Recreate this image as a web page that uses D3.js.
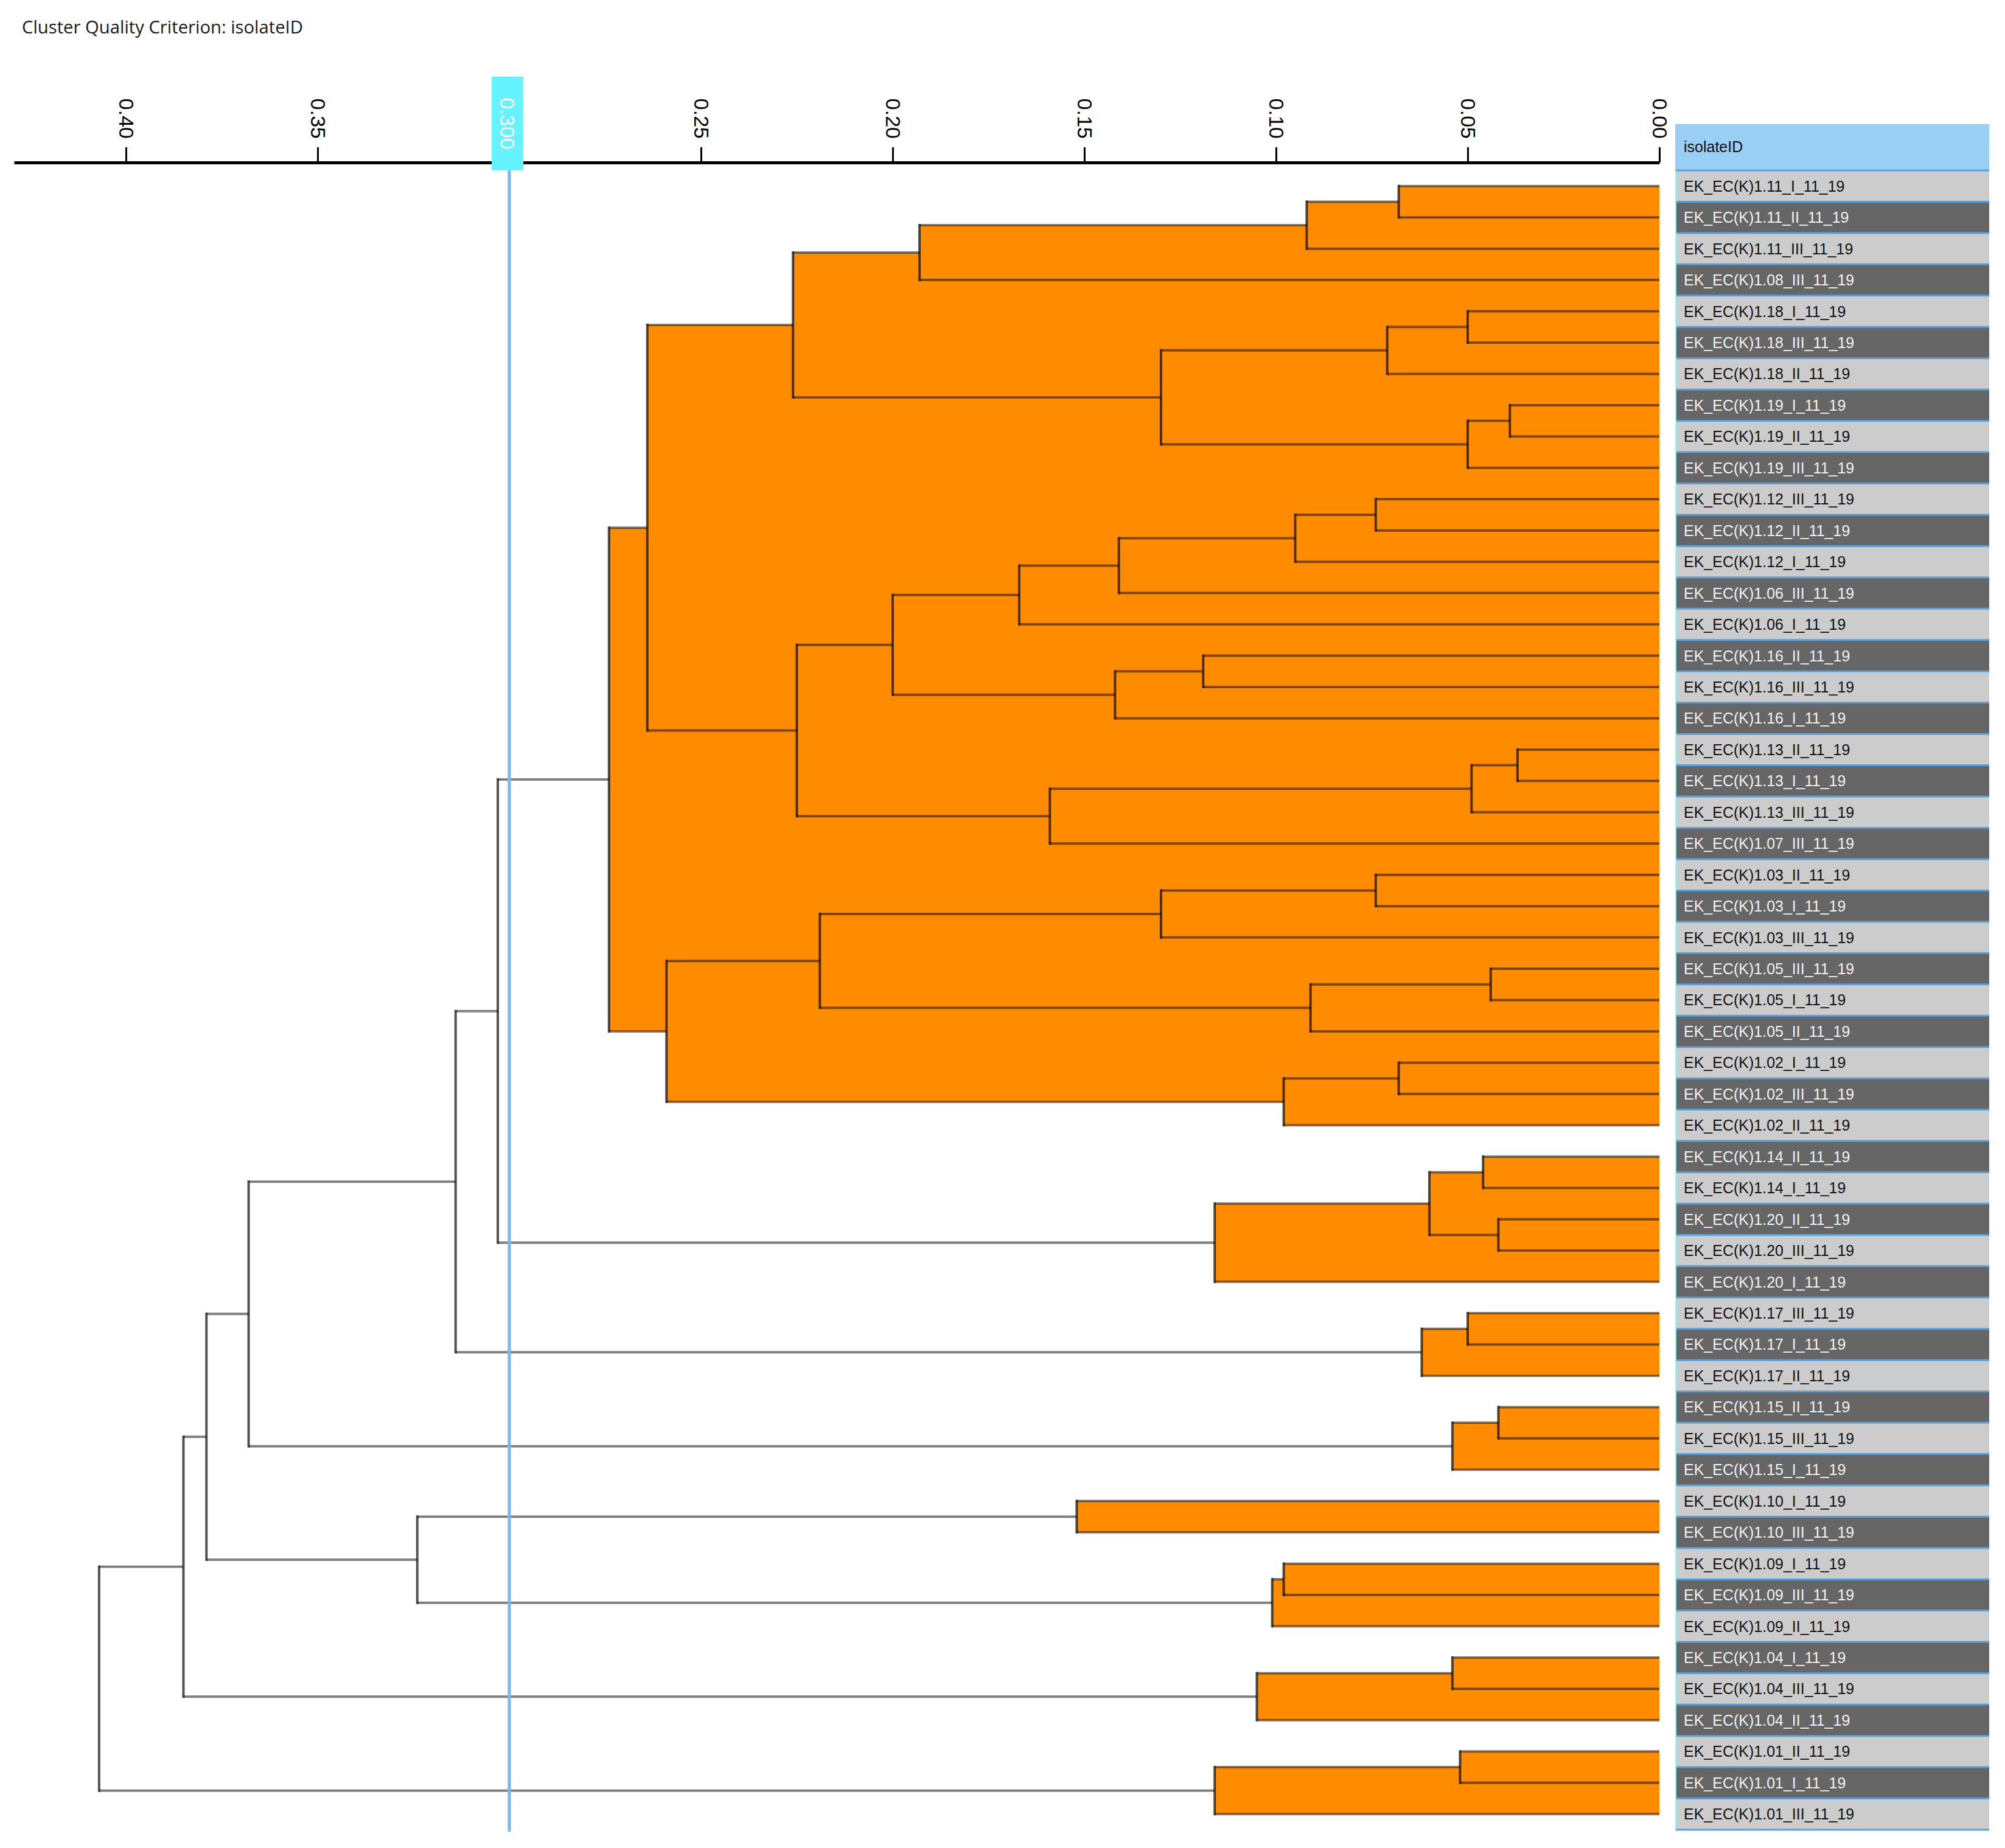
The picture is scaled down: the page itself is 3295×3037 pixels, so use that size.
<!DOCTYPE html>
<html>
<head>
<meta charset="utf-8">
<title>Cluster Quality Criterion</title>
<script src="https://cdn.jsdelivr.net/npm/d3@7"></script>
<style>
  body { margin: 0; background: #fff; }
</style>
</head>
<body>
<div id="chart"></div>
<script>

// leaves, top to bottom
var leafLabels = [
  "EK_EC(K)1.11_I_11_19", "EK_EC(K)1.11_II_11_19", "EK_EC(K)1.11_III_11_19", "EK_EC(K)1.08_III_11_19",
  "EK_EC(K)1.18_I_11_19", "EK_EC(K)1.18_III_11_19", "EK_EC(K)1.18_II_11_19", "EK_EC(K)1.19_I_11_19",
  "EK_EC(K)1.19_II_11_19", "EK_EC(K)1.19_III_11_19", "EK_EC(K)1.12_III_11_19", "EK_EC(K)1.12_II_11_19",
  "EK_EC(K)1.12_I_11_19", "EK_EC(K)1.06_III_11_19", "EK_EC(K)1.06_I_11_19", "EK_EC(K)1.16_II_11_19",
  "EK_EC(K)1.16_III_11_19", "EK_EC(K)1.16_I_11_19", "EK_EC(K)1.13_II_11_19", "EK_EC(K)1.13_I_11_19",
  "EK_EC(K)1.13_III_11_19", "EK_EC(K)1.07_III_11_19", "EK_EC(K)1.03_II_11_19", "EK_EC(K)1.03_I_11_19",
  "EK_EC(K)1.03_III_11_19", "EK_EC(K)1.05_III_11_19", "EK_EC(K)1.05_I_11_19", "EK_EC(K)1.05_II_11_19",
  "EK_EC(K)1.02_I_11_19", "EK_EC(K)1.02_III_11_19", "EK_EC(K)1.02_II_11_19", "EK_EC(K)1.14_II_11_19",
  "EK_EC(K)1.14_I_11_19", "EK_EC(K)1.20_II_11_19", "EK_EC(K)1.20_III_11_19", "EK_EC(K)1.20_I_11_19",
  "EK_EC(K)1.17_III_11_19", "EK_EC(K)1.17_I_11_19", "EK_EC(K)1.17_II_11_19", "EK_EC(K)1.15_II_11_19",
  "EK_EC(K)1.15_III_11_19", "EK_EC(K)1.15_I_11_19", "EK_EC(K)1.10_I_11_19", "EK_EC(K)1.10_III_11_19",
  "EK_EC(K)1.09_I_11_19", "EK_EC(K)1.09_III_11_19", "EK_EC(K)1.09_II_11_19", "EK_EC(K)1.04_I_11_19",
  "EK_EC(K)1.04_III_11_19", "EK_EC(K)1.04_II_11_19", "EK_EC(K)1.01_II_11_19", "EK_EC(K)1.01_I_11_19",
  "EK_EC(K)1.01_III_11_19"
];

// linkage: [node a, node b, height]; leaves are 0..52, merge k gets id 53+k
var merges = [
  [0, 1, 0.068], [53, 2, 0.092], [54, 3, 0.193],
  [4, 5, 0.050], [56, 6, 0.071], [7, 8, 0.039], [58, 9, 0.050], [57, 59, 0.130],
  [55, 60, 0.226],
  [10, 11, 0.074], [62, 12, 0.095], [63, 13, 0.141], [64, 14, 0.167],
  [15, 16, 0.119], [66, 17, 0.142], [65, 67, 0.200],
  [18, 19, 0.037], [69, 20, 0.049], [70, 21, 0.159], [68, 71, 0.225],
  [61, 72, 0.264],
  [22, 23, 0.074], [74, 24, 0.130], [25, 26, 0.044], [76, 27, 0.091], [75, 77, 0.219],
  [28, 29, 0.068], [79, 30, 0.098], [78, 80, 0.259],
  [73, 81, 0.274],
  [31, 32, 0.046], [33, 34, 0.042], [83, 84, 0.060], [85, 35, 0.116],
  [82, 86, 0.303],
  [36, 37, 0.050], [88, 38, 0.062], [87, 89, 0.314],
  [39, 40, 0.042], [91, 41, 0.054], [90, 92, 0.368],
  [42, 43, 0.152], [44, 45, 0.098], [95, 46, 0.101], [94, 96, 0.324],
  [93, 97, 0.379],
  [47, 48, 0.054], [99, 49, 0.105], [98, 100, 0.385],
  [50, 51, 0.052], [102, 52, 0.116], [101, 103, 0.407]
];

var tickValues = [0.40, 0.35, 0.30, 0.25, 0.20, 0.15, 0.10, 0.05, 0.00];
var threshold = 0.30;
var titleText = "Cluster Quality Criterion: isolateID";
var columnTitle = "isolateID";

var width = 3295, height = 3037;
var axisY = 267;
var colX = 2753, colW = 516;
var rowsTop = 280, rowsBottom = 3007;

var svg = d3.select("#chart").append("svg")
  .attr("width", width)
  .attr("height", height)
  .style("background", "#fff");

var x = d3.scaleLinear().domain([0, 0.4292]).range([2727, 23]);
var y = d3.scaleBand().domain(d3.range(leafLabels.length)).range([rowsTop, rowsBottom]);

// nodes
var nodes = leafLabels.map(function(l, i) {
  return { id: i, h: 0, label: l, y: y(i) + y.bandwidth() / 2 };
});
merges.forEach(function(m) {
  var a = nodes[m[0]], b = nodes[m[1]];
  nodes.push({ id: nodes.length, h: m[2], kids: [a, b], y: (a.y + b.y) / 2 });
});
var inner = nodes.filter(function(d) { return d.kids; });

// title
svg.append("text")
  .attr("x", 36)
  .attr("y", 55)
  .attr("textLength", 462)
  .attr("lengthAdjust", "spacingAndGlyphs")
  .style("font-family", "'Open Sans', 'Noto Sans', sans-serif")
  .style("font-size", "30px")
  .style("fill", "#1a1a1a")
  .text(titleText);

// axis
var axis = svg.append("g")
  .attr("transform", "translate(0," + axisY + ")")
  .call(d3.axisTop(x).tickValues(tickValues).tickSize(25).tickSizeOuter(0).tickFormat(d3.format(".2f")));

axis.select(".domain").attr("stroke", "#000").attr("stroke-width", 5);
axis.selectAll(".tick line").attr("stroke", "#000").attr("stroke-width", 3);
axis.selectAll(".tick text")
  .attr("transform", "rotate(90)")
  .attr("x", -39)
  .attr("y", 0)
  .attr("dy", "0.35em")
  .style("text-anchor", "end")
  .style("font-family", "'Liberation Sans', Arial, sans-serif")
  .style("font-size", "34px")
  .style("fill", "#000");

// cluster fill
var tree = svg.append("g");
tree.selectAll("rect.fill")
  .data(inner.filter(function(d) { return d.h < threshold; }))
  .enter()
  .append("rect")
    .attr("class", "fill")
    .attr("x", function(d) { return x(d.h); })
    .attr("y", function(d) { return Math.min(d.kids[0].y, d.kids[1].y); })
    .attr("width", function(d) { return x(0) - x(d.h); })
    .attr("height", function(d) { return Math.abs(d.kids[1].y - d.kids[0].y); })
    .attr("fill", "#ff8c00");

// branches
var hSegs = [];
inner.forEach(function(d) {
  d.kids.forEach(function(c) { hSegs.push({ x1: x(d.h), x2: x(c.h), y: c.y }); });
});

tree.selectAll("line.h")
  .data(hSegs)
  .enter()
  .append("line")
    .attr("class", "h")
    .attr("x1", function(d) { return d.x1; })
    .attr("x2", function(d) { return d.x2; })
    .attr("y1", function(d) { return d.y; })
    .attr("y2", function(d) { return d.y; })
    .attr("stroke", "rgba(0,0,0,0.5)")
    .attr("stroke-width", 4);

tree.selectAll("line.v")
  .data(inner)
  .enter()
  .append("line")
    .attr("class", "v")
    .attr("x1", function(d) { return x(d.h); })
    .attr("x2", function(d) { return x(d.h); })
    .attr("y1", function(d) { return d.kids[0].y - 2; })
    .attr("y2", function(d) { return d.kids[1].y + 2; })
    .attr("stroke", "rgba(0,0,0,0.68)")
    .attr("stroke-width", 4);

// threshold marker
svg.append("line")
  .attr("x1", x(threshold))
  .attr("x2", x(threshold))
  .attr("y1", rowsTop)
  .attr("y2", rowsBottom + 3)
  .attr("stroke", "#74b8ee")
  .attr("stroke-width", 5);

svg.append("rect")
  .attr("x", x(threshold) - 29)
  .attr("y", 126)
  .attr("width", 52)
  .attr("height", 154)
  .attr("fill", "#66f3ff");

svg.append("text")
  .attr("transform", "translate(" + (x(threshold) - 3) + ",203) rotate(90)")
  .attr("dy", "0.35em")
  .style("text-anchor", "middle")
  .style("font-family", "'Liberation Sans', Arial, sans-serif")
  .style("font-size", "34px")
  .style("fill", "#fff")
  .text(d3.format(".3f")(threshold));

// label column
var col = svg.append("g");

col.append("rect")
  .attr("x", colX)
  .attr("y", 204)
  .attr("width", colW)
  .attr("height", 76)
  .attr("fill", "#99cff5");

col.append("text")
  .attr("x", colX + 14)
  .attr("y", 250)
  .style("font-family", "'Liberation Sans', Arial, sans-serif")
  .style("font-size", "25px")
  .style("fill", "#111")
  .text(columnTitle);

var rows = col.selectAll("g.row")
  .data(leafLabels)
  .enter()
  .append("g")
    .attr("class", "row")
    .attr("transform", function(d, i) { return "translate(" + colX + "," + y(i) + ")"; });

rows.append("rect")
  .attr("width", colW)
  .attr("height", y.bandwidth())
  .attr("fill", function(d, i) { return i % 2 ? "#666666" : "#cccccc"; });

rows.append("line")
  .attr("x1", 0)
  .attr("x2", colW)
  .attr("y1", 0)
  .attr("y2", 0)
  .attr("stroke", "#5b9fd6")
  .attr("stroke-width", 3);

rows.append("text")
  .attr("x", 14)
  .attr("y", y.bandwidth() / 2 + 9)
  .style("font-family", "'Liberation Sans', Arial, sans-serif")
  .style("font-size", "25px")
  .style("fill", function(d, i) { return i % 2 ? "#f2f2f2" : "#111"; })
  .text(function(d) { return d; });

col.append("line")
  .attr("x1", colX)
  .attr("x2", colX + colW)
  .attr("y1", rowsBottom)
  .attr("y2", rowsBottom)
  .attr("stroke", "#5b9fd6")
  .attr("stroke-width", 3);

col.append("line")
  .attr("x1", colX + 1)
  .attr("x2", colX + 1)
  .attr("y1", rowsTop)
  .attr("y2", rowsBottom)
  .attr("stroke", "#8ef4ff")
  .attr("stroke-width", 2);

</script>
</body>
</html>
